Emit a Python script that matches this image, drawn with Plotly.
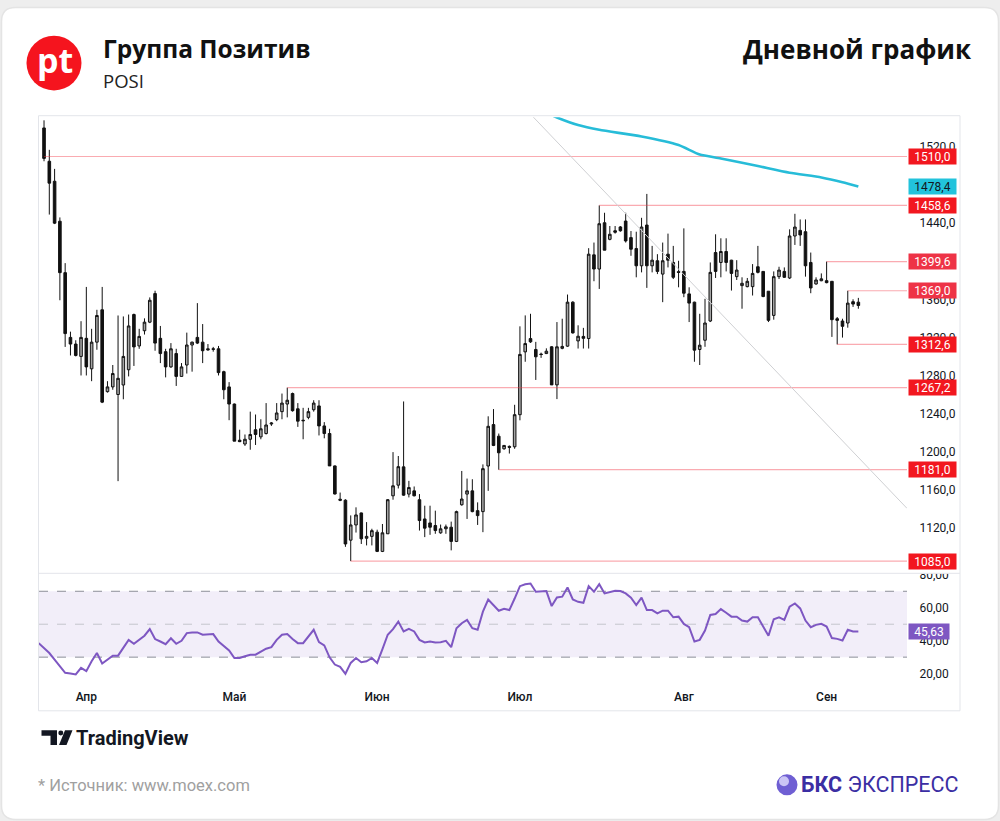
import plotly.graph_objects as go

# ---------------- data ----------------
opens = [1540, 1505, 1484, 1442, 1388, 1320, 1313, 1300, 1319, 1287,
         1315, 1349, 1263, 1268, 1260, 1270, 1286, 1344, 1311, 1327,
         1336, 1366, 1319, 1305, 1289, 1303, 1279, 1291, 1312, 1320,
         1315, 1308, 1308, 1308, 1284, 1268, 1250, 1212, 1208, 1213,
         1223, 1215.5, 1219, 1229, 1233.6, 1242, 1250, 1261, 1245, 1233,
         1236, 1244, 1248, 1227, 1219, 1185, 1150, 1149, 1107, 1123,
         1135.6, 1109, 1111, 1115.4, 1095.2, 1113.7, 1153.6, 1164.8, 1184, 1155.4,
         1158.8, 1149.5, 1129.3, 1125.1, 1122.4, 1114.7, 1119, 1120.6, 1105.7, 1144.2,
         1155.4, 1158.8, 1138, 1137, 1184.9, 1228.4, 1216.2, 1203, 1205.5, 1205.1,
         1238.8, 1304.8, 1318.7, 1307.3, 1302.5, 1303, 1310.1, 1270.1, 1308.5, 1310.8,
         1357, 1316.3, 1321, 1318.8, 1406.7, 1391.8, 1440.4, 1423, 1432, 1436,
         1442.2, 1424.8, 1413.3, 1395.2, 1438, 1395.2, 1400.5, 1386.5, 1407.4, 1398.7,
         1389, 1389.3, 1365.7, 1357, 1307.3, 1317, 1337.2, 1409.1, 1398.7, 1410.2,
         1401.1, 1383.8, 1374.4, 1373.3, 1373.3, 1394.2, 1389.3, 1368.5, 1343.1, 1383.8,
         1389.3, 1382.4, 1426.5, 1432.4, 1431, 1398.7, 1376.1, 1379.5, 1379.6, 1378.9,
         1339.6, 1337.2, 1335.1, 1357.5, 1357]
highs = [1548, 1517, 1497, 1446, 1398, 1326, 1317, 1337, 1373, 1329,
         1349, 1373, 1274, 1291, 1343, 1342, 1344, 1345, 1329, 1340,
         1362, 1369, 1332, 1308, 1314, 1308, 1293, 1325, 1315.5, 1356,
         1334, 1313, 1310, 1311, 1285, 1273, 1250.5, 1223, 1218, 1242,
         1239, 1234, 1251, 1231, 1251, 1261, 1267.2, 1262, 1251, 1246,
         1246, 1254, 1254, 1231, 1224, 1185.5, 1157, 1150, 1133, 1141.5,
         1136, 1126, 1119, 1118, 1124, 1150.2, 1199.5, 1195.4, 1252.7, 1169.3,
         1163.4, 1155.4, 1143.2, 1143.2, 1138, 1123.4, 1123.4, 1126.5, 1138, 1179.7,
         1171.7, 1171, 1146.7, 1186.6, 1237.1, 1244.7, 1219, 1207, 1206.5, 1249.2,
         1331.6, 1343.1, 1344.8, 1315.3, 1304, 1308.5, 1310.8, 1336.1, 1339.6, 1365,
         1358, 1332.7, 1330, 1413.7, 1419.6, 1458.6, 1450.9, 1437, 1437, 1437,
         1450.9, 1431.7, 1431, 1445.6, 1470.7, 1416.1, 1407.4, 1419.6, 1429, 1416.1,
         1400.5, 1434.5, 1372.6, 1357.5, 1344.8, 1360.5, 1398.7, 1428.3, 1424.1, 1424.1,
         1401.5, 1401.1, 1383.1, 1382.4, 1397, 1416.1, 1389.5, 1368.6, 1389.3, 1394.2,
         1393.5, 1433.5, 1449.8, 1443.9, 1443.9, 1409.1, 1383.1, 1387.2, 1399.6, 1379,
         1341.4, 1339.6, 1369, 1360, 1361.5]
lows = [1505, 1449, 1439, 1359, 1310, 1301, 1300, 1280, 1280, 1274,
        1307, 1251, 1262, 1265, 1169, 1255, 1279, 1290, 1308, 1323,
        1335, 1306, 1293, 1278, 1288, 1269, 1279, 1282, 1284, 1313,
        1293, 1306, 1305, 1280, 1255, 1233, 1211, 1210, 1206, 1202,
        1207, 1213, 1218, 1227, 1232, 1234, 1236, 1242, 1226, 1213,
        1234, 1242, 1217, 1214, 1185, 1155, 1148, 1100, 1085, 1115,
        1103, 1101.5, 1101.5, 1094.5, 1094.5, 1113.5, 1149.5, 1161.3, 1153.6, 1151.9,
        1153, 1117.1, 1110.2, 1112.6, 1113.7, 1113.7, 1113.7, 1096.3, 1105, 1143.2,
        1129.3, 1136.3, 1123, 1115.4, 1158.8, 1205.8, 1181, 1202, 1198, 1203,
        1232.9, 1294.4, 1314.2, 1275.3, 1298.5, 1302.5, 1270.1, 1255.2, 1307.5, 1310.1,
        1324, 1308.3, 1308.3, 1308.3, 1379, 1370.9, 1411.6, 1422, 1429, 1431,
        1419.6, 1405.7, 1383.1, 1388.3, 1372, 1388.3, 1386.5, 1357, 1393.5, 1381.3,
        1372.6, 1362.2, 1336.1, 1294.4, 1291, 1310.1, 1336.1, 1382.4, 1383.1, 1389.3,
        1369.2, 1380.3, 1350.1, 1372.6, 1364, 1387.2, 1362.2, 1336.1, 1338.6, 1381.3,
        1382.4, 1381.3, 1417.1, 1416.1, 1383.8, 1366.4, 1375.4, 1379, 1376.8, 1320.5,
        1312.6, 1319.8, 1330.2, 1352, 1350.1]
closes = [1508, 1482, 1440, 1388, 1324, 1313, 1301, 1320, 1289, 1315,
          1343, 1252, 1268, 1282, 1277, 1300, 1332, 1310, 1321, 1336,
          1359, 1314, 1303, 1289, 1308, 1279, 1289, 1312, 1315, 1314,
          1306, 1307, 1307.5, 1283, 1265, 1250, 1211, 1210.5, 1213, 1218,
          1218, 1224, 1228, 1230, 1240.6, 1251, 1254, 1243, 1232, 1232.5,
          1242, 1251, 1227, 1219, 1185, 1155.5, 1149, 1103, 1123, 1133.5,
          1108.4, 1111, 1117, 1095.2, 1114.7, 1149.5, 1164.1, 1184.2, 1154.3, 1162.3,
          1153.6, 1127.6, 1119.6, 1120.6, 1117.1, 1118.9, 1121, 1105.7, 1137, 1150.2,
          1158.8, 1137, 1132.8, 1182.1, 1226.6, 1206.5, 1198.8, 1206.5, 1204.5, 1238.8,
          1302.1, 1313.5, 1315.3, 1299.6, 1302, 1305.5, 1270.1, 1310.1, 1310.5, 1357,
          1324.7, 1321.2, 1319, 1407.4, 1391.8, 1439.4, 1411.6, 1428.3, 1430.5, 1432,
          1421.3, 1412.6, 1395.2, 1435.9, 1395.2, 1401.1, 1389.3, 1400.5, 1401.1, 1383.1,
          1388.3, 1366.4, 1356, 1306.6, 1311.8, 1335.1, 1388.3, 1389.3, 1410.2, 1398.7,
          1387.2, 1390.7, 1376.8, 1378.9, 1387.2, 1388.3, 1362.9, 1337.9, 1383.8, 1390.7,
          1383.1, 1426.5, 1435.9, 1427.6, 1395.2, 1371.9, 1380.3, 1381.5, 1377.5, 1338.6,
          1337.9, 1331.6, 1356, 1355, 1353.5]
bar_idx = list(range(len(opens)))

rsi_idx = list(range(-1, len(opens)))
rsi_vals = [38.5,
            35.5, 32.5, 28.5, 24.5, 20.5, 20.1, 19.5, 23.5, 21.5, 27.5,
            32.5, 26.1, 28.5, 30.9, 30.9, 36.1, 40.5, 38.1, 40.5, 43.0,
            47.0, 41.0, 39.5, 37.9, 41.5, 38.1, 39.9, 44.6, 45.0, 45.0,
            43.6, 43.8, 44.0, 39.5, 36.5, 34.1, 29.5, 29.5, 30.5, 31.5,
            31.5, 33.5, 35.1, 36.1, 40.5, 43.6, 44.0, 41.0, 38.5, 38.5,
            42.6, 46.6, 39.1, 37.1, 29.9, 25.5, 24.1, 19.9, 26.5, 29.5,
            26.9, 27.5, 29.5, 26.5, 34.9, 43.6, 47.0, 51.6, 45.6, 47.2,
            45.6, 40.5, 38.9, 39.5, 38.9, 39.1, 39.9, 36.1, 47.6, 50.6,
            52.6, 47.6, 46.6, 57.6, 65.0, 61.6, 58.2, 59.4, 58.6, 65.6,
            73.1, 74.3, 74.7, 69.7, 70.1, 70.1, 61.0, 66.2, 66.7, 72.3,
            65.0, 63.6, 63.0, 73.1, 69.7, 74.3, 68.7, 69.7, 70.3, 70.1,
            68.7, 66.1, 61.6, 66.1, 58.6, 58.6, 56.6, 58.2, 58.2, 54.2,
            54.6, 50.2, 48.2, 39.5, 40.5, 46.2, 55.6, 56.2, 59.2, 57.0,
            54.6, 54.6, 52.2, 51.6, 54.2, 54.2, 48.6, 43.0, 53.0, 54.2,
            52.6, 60.6, 62.6, 59.6, 52.2, 48.2, 49.6, 50.2, 48.6, 41.6,
            41.1, 40.1, 46.6, 45.6, 45.63]

ma_idx = [95, 97, 101, 105, 113, 120, 124, 128, 135, 141, 147, 151, 154]
ma_vals = [1556, 1551, 1543, 1538, 1531, 1522, 1512, 1508, 1500, 1493, 1488, 1483, 1478.4]

trend_x = [92.5, 163.2]
trend_y = [1551.6, 1140.4]

level_vals = [1510.0, 1458.6, 1399.6, 1369.0, 1312.6, 1267.2, 1181.0, 1085.0]
level_start = [0, 105, 148, 152, 150, 46, 86, 58]

month_idx = [8, 36, 63, 90, 121, 148]
month_labels = ["Апр", "Май", "Июн", "Июл", "Авг", "Сен"]

price_ticks = [1120, 1160, 1200, 1240, 1280, 1320, 1360, 1400, 1440, 1480, 1520]
rsi_ticks = [20, 40, 60, 80]
rsi_levels = [70, 50, 30]

title_text = "Группа Позитив"
ticker_text = "POSI"
chart_type_text = "Дневной график"
source_text = "* Источник: www.moex.com"

# ---------------- layout helpers ----------------
W, H = 1000, 821


def fx(px):
    return px / W


def fy(py):
    return 1 - py / H


def fmt(v, d=1):
    return f"{v:.{d}f}".replace(".", ",")


X_RANGE = [-0.95, 163.2]
PRICE_RANGE = [1072.7, 1551.3]
RSI_RANGE = [15.5, 80.6]
PANE_L, PANE_R = 39, 907

fig = go.Figure()

# horizontal levels
for lv, st in zip(level_vals, level_start):
    fig.add_trace(go.Scatter(x=[st, X_RANGE[1]], y=[lv, lv], mode="lines",
                             line=dict(color="rgba(242,54,69,0.42)", width=1.2),
                             hoverinfo="skip", xaxis="x", yaxis="y"))

# trend line
fig.add_trace(go.Scatter(x=trend_x, y=trend_y, mode="lines",
                         line=dict(color="#cfd0d3", width=1), hoverinfo="skip",
                         xaxis="x", yaxis="y"))

# moving average
fig.add_trace(go.Scatter(x=ma_idx, y=ma_vals, mode="lines",
                         line=dict(color="#27bcd8", width=2.6, shape="spline", smoothing=0.6),
                         hoverinfo="skip", xaxis="x", yaxis="y"))

# candles
fig.add_trace(go.Candlestick(x=bar_idx, open=opens, high=highs, low=lows, close=closes,
                             increasing=dict(line=dict(color="#111111", width=1), fillcolor="#a4a4a4"),
                             decreasing=dict(line=dict(color="#111111", width=1), fillcolor="#111111"),
                             whiskerwidth=0, xaxis="x", yaxis="y"))

# RSI
fig.add_trace(go.Scatter(x=rsi_idx, y=rsi_vals, mode="lines",
                         line=dict(color="#7e57c2", width=2), hoverinfo="skip",
                         xaxis="x", yaxis="y2"))

# ---------------- shapes ----------------
shapes = []
# card
x0, x1, y0, y1 = fx(1.5), fx(998.5), fy(819.5), fy(1.5)
rx, ry = 14 / W, 14 / H
card_path = (f"M {x0+rx},{y1} L {x1-rx},{y1} Q {x1},{y1} {x1},{y1-ry} "
             f"L {x1},{y0+ry} Q {x1},{y0} {x1-rx},{y0} L {x0+rx},{y0} "
             f"Q {x0},{y0} {x0},{y0+ry} L {x0},{y1-ry} Q {x0},{y1} {x0+rx},{y1} Z")
shapes.append(dict(type="path", path=card_path, xref="paper", yref="paper",
                   fillcolor="white", line=dict(color="#e4e4e4", width=1.5), layer="below"))
# RSI band
shapes.append(dict(type="rect", xref="paper", yref="y2", x0=fx(PANE_L), x1=fx(PANE_R),
                   y0=rsi_levels[2], y1=rsi_levels[0], fillcolor="rgba(126,87,194,0.10)",
                   line=dict(width=0), layer="below"))
for lvl, col in zip(rsi_levels, ["#8d9099", "#c4c6cc", "#8d9099"]):
    shapes.append(dict(type="line", xref="paper", yref="y2", x0=fx(PANE_L), x1=fx(PANE_R),
                       y0=lvl, y1=lvl, line=dict(color=col, width=1, dash="dash"), layer="below"))
# cover upper part of the clipped 80 label
shapes.append(dict(type="rect", xref="paper", yref="paper", x0=fx(908), x1=fx(959),
                   y0=fy(572), y1=fy(558), fillcolor="white", line=dict(width=0), layer="above"))
# frame + separator
shapes.append(dict(type="rect", xref="paper", yref="paper", x0=fx(38.5), x1=fx(960),
                   y0=fy(710), y1=fy(110.5), line=dict(color="#e3e5ea", width=1), layer="above"))
shapes.append(dict(type="line", xref="paper", yref="paper", x0=fx(38.5), x1=fx(960),
                   y0=fy(571.5), y1=fy(571.5), line=dict(color="#e3e5ea", width=1), layer="above"))
# logo circle
shapes.append(dict(type="circle", xref="paper", yref="paper", x0=fx(26.5), x1=fx(81.5),
                   y0=fy(85), y1=fy(30), fillcolor="#f5141e", line=dict(width=0)))
# TradingView mark
shapes.append(dict(type="path", xref="paper", yref="paper",
                   path=(f"M {fx(41.5)},{fy(729.5)} L {fx(57)},{fy(729.5)} L {fx(57)},{fy(744.5)} "
                         f"L {fx(50.5)},{fy(744.5)} L {fx(50.5)},{fy(735)} L {fx(41.5)},{fy(735)} Z"),
                   fillcolor="#131722", line=dict(width=0)))
shapes.append(dict(type="circle", xref="paper", yref="paper", x0=fx(58.3), x1=fx(63.3),
                   y0=fy(734.8), y1=fy(729.8), fillcolor="#131722", line=dict(width=0)))
shapes.append(dict(type="path", xref="paper", yref="paper",
                   path=(f"M {fx(65)},{fy(729.5)} L {fx(72.5)},{fy(729.5)} L {fx(66.5)},{fy(744.5)} "
                         f"L {fx(59)},{fy(744.5)} Z"),
                   fillcolor="#131722", line=dict(width=0)))
# BKS sphere
shapes.append(dict(type="circle", xref="paper", yref="paper", x0=fx(776.5), x1=fx(797.5),
                   y0=fy(795), y1=fy(774), fillcolor="#6f5fd3", line=dict(width=0)))
shapes.append(dict(type="circle", xref="paper", yref="paper", x0=fx(779), x1=fx(789),
                   y0=fy(786), y1=fy(776), fillcolor="rgba(220,215,250,0.85)", line=dict(width=0)))

# ---------------- annotations ----------------
ann = []
LEVEL_BG = ["#f2171f", "#f2171f", "#ee3346", "#ee3346", "#f2171f", "#f2171f", "#f2171f", "#f2171f"]
for lv, bg in zip(level_vals, LEVEL_BG):
    ann.append(dict(x=fx(908), xref="paper", xanchor="left", y=lv, yref="y", yanchor="middle",
                    text=fmt(lv), showarrow=False, bgcolor=bg, width=45, height=13, borderpad=1,
                    font=dict(color="white", size=12, family="Roboto, Arial")))
ann.append(dict(x=fx(908), xref="paper", xanchor="left", y=ma_vals[-1], yref="y", yanchor="middle",
                text=fmt(ma_vals[-1]), showarrow=False, bgcolor="#22c3dc", width=45, height=13,
                borderpad=1, font=dict(color="#131722", size=12, family="Roboto, Arial")))
ann.append(dict(x=fx(908), xref="paper", xanchor="left", y=rsi_vals[-1], yref="y2", yanchor="middle",
                text=fmt(rsi_vals[-1], 2), showarrow=False, bgcolor="#7e57c2", width=38, height=13,
                borderpad=1, font=dict(color="white", size=12, family="Roboto, Arial")))

HEAD_FONT = "Open Sans, Roboto, Arial"
ann.append(dict(x=fx(54.5), y=fy(54), xref="paper", yref="paper", text="<b>pt</b>", showarrow=False,
                xanchor="center", yanchor="middle",
                font=dict(color="white", size=34, family="Open Sans, Arial")))
ann.append(dict(x=fx(101), y=fy(43), xref="paper", yref="paper", text=f"<b>{title_text}</b>",
                showarrow=False, xanchor="left", yanchor="middle",
                font=dict(color="#111111", size=24.5, family=HEAD_FONT)))
ann.append(dict(x=fx(101), y=fy(75), xref="paper", yref="paper", text=ticker_text,
                showarrow=False, xanchor="left", yanchor="middle",
                font=dict(color="#222222", size=18.5, family=HEAD_FONT)))
ann.append(dict(x=fx(974), y=fy(43), xref="paper", yref="paper", text=f"<b>{chart_type_text}</b>",
                showarrow=False, xanchor="right", yanchor="middle",
                font=dict(color="#111111", size=26, family=HEAD_FONT)))
ann.append(dict(x=fx(74), y=fy(737), xref="paper", yref="paper", text="<b>TradingView</b>",
                showarrow=False, xanchor="left", yanchor="middle",
                font=dict(color="#131722", size=20, family="Roboto, Arial")))
ann.append(dict(x=fx(36), y=fy(785.5), xref="paper", yref="paper", text=source_text,
                showarrow=False, xanchor="left", yanchor="middle",
                font=dict(color="#a0a0a0", size=16.5, family="Roboto, Arial")))
ann.append(dict(x=fx(799), y=fy(784.5), xref="paper", yref="paper",
                text="<b>БКС</b> ЭКСПРЕСС", showarrow=False, xanchor="left", yanchor="middle",
                font=dict(color="#3b2ea3", size=21.5, family="Roboto, Arial")))

axis_common = dict(showgrid=False, zeroline=False, showline=False)

fig.update_layout(
    width=W, height=H, margin=dict(l=0, r=0, t=0, b=0),
    paper_bgcolor="#eeeeee", plot_bgcolor="rgba(0,0,0,0)",
    showlegend=False, separators=", ",
    font=dict(family="Roboto, Arial, sans-serif", color="#131722", size=12),
    xaxis=dict(domain=[fx(PANE_L), fx(PANE_R)], range=X_RANGE, anchor="y2",
               tickmode="array", tickvals=month_idx, ticktext=month_labels,
               ticks="outside", ticklen=5, tickcolor="rgba(0,0,0,0)",
               tickfont=dict(size=12, color="#131722", family="Roboto Medium, Roboto, Arial"),
               rangeslider=dict(visible=False), fixedrange=True, **axis_common),
    yaxis=dict(domain=[fy(571), fy(112)], range=PRICE_RANGE, anchor="x", side="right",
               tickmode="array", tickvals=price_ticks, tickformat=".1f",
               ticks="outside", ticklen=9, tickcolor="rgba(0,0,0,0)",
               tickfont=dict(size=12, color="#131722"), **axis_common),
    yaxis2=dict(domain=[fy(680), fy(572)], range=RSI_RANGE, anchor="x", side="right",
                tickmode="array", tickvals=rsi_ticks, tickformat=".2f",
                ticks="outside", ticklen=9, tickcolor="rgba(0,0,0,0)",
                tickfont=dict(size=12, color="#131722"), **axis_common),
    shapes=shapes, annotations=ann,
)

fig.write_html("out.html")
